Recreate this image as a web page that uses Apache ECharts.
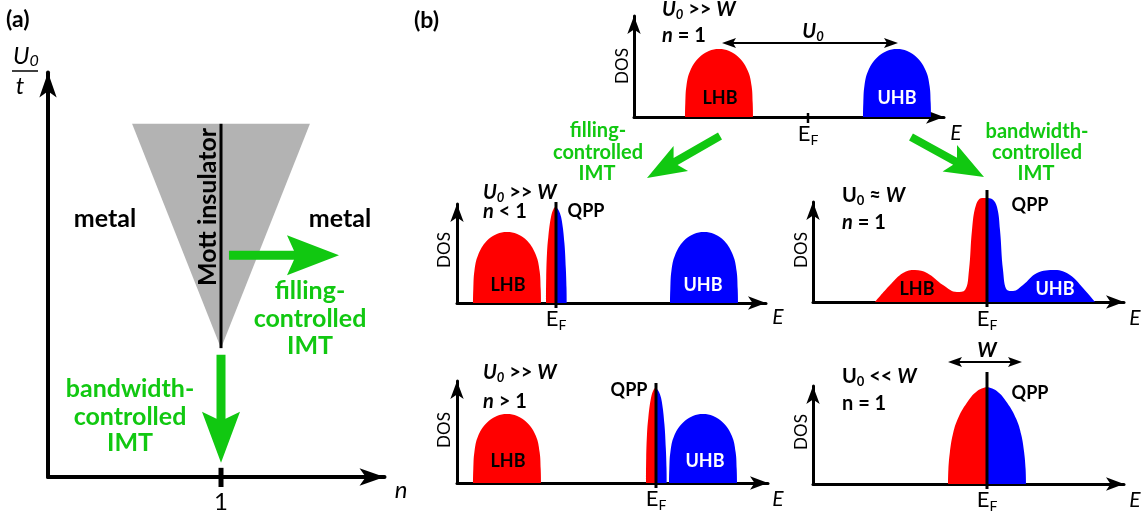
<!DOCTYPE html>
<html>
<head>
<meta charset="utf-8">
<script src="https://cdn.jsdelivr.net/npm/echarts@6/dist/echarts.min.js"></script>
<style>
  html, body { margin: 0; padding: 0; background: #fff; }
  #chart { width: 1143px; height: 516px; }
</style>
</head>
<body>
<div id="chart"></div>
<script>
// ---------- (a) phase diagram: filling n vs U0/t ----------
const mottWedge = [[0.486, 8.47], [1.514, 8.47], [1.0, 3.09]];     // insulating wedge
const mottLine = [[1.0, 8.47, 1.0, 3.09]];                          // n = 1 line
const fillingArrowA = [[1.046, 5.32, 1.682, 5.32]];                 // tail x, tail y, tip x, tip y
const bandwidthArrowA = [[1.0, 2.93, 1.0, 0.34]];
const nTickA = [[1.0, 0.22, 1.0, -0.24]];

// ---------- (b) densities of states, E measured from E_F ----------
// U0 >> W, n = 1
const dosTopLHB = [[-12.3,0],[-12.27,1.4],[-12.16,3.1],[-11.79,4.6],[-10.94,5.9],[-9.92,6.6],[-8.9,6.8],[-7.88,6.6],[-6.86,5.9],[-6.01,4.6],[-5.64,3.1],[-5.53,1.4],[-5.5,0]];
const dosTopUHB = [[5.5,0],[5.53,1.4],[5.64,3.1],[6.01,4.6],[6.86,5.9],[7.88,6.6],[8.9,6.8],[9.92,6.6],[10.94,5.9],[11.79,4.6],[12.16,3.1],[12.27,1.4],[12.3,0]];
const u0ArrowTop = [[-8.6, 7.4, 9.0, 7.4]];
const efTickTop = [[0, 0.4, 0, -0.6]];
const fillingArrowB = [[-8.8, -1.9, -16.1, -6.1]];
const bandwidthArrowB = [[10.3, -2.0, 17.6, -6.0]];

// U0 >> W, n < 1
const dosLtLHB = [[-8.3,0],[-8.27,1.4],[-8.16,3.2],[-7.79,4.8],[-6.94,6.2],[-5.92,6.9],[-4.9,7.1],[-3.88,6.9],[-2.86,6.2],[-2.01,4.8],[-1.64,3.2],[-1.53,1.4],[-1.5,0]];
const dosLtUHB = [[11.4,0],[11.43,1.4],[11.54,3.2],[11.91,4.8],[12.76,6.2],[13.78,6.9],[14.8,7.1],[15.82,6.9],[16.84,6.2],[17.69,4.8],[18.06,3.2],[18.17,1.4],[18.2,0]];
const dosLtQppOcc = [[-1.0,0],[-0.98,2.5],[-0.9,5.0],[-0.77,6.6],[-0.5,8.6],[-0.2,9.5],[0,9.6]];
const dosLtQppEmpty = [[0,9.6],[0.3,9.2],[0.57,8.3],[0.84,6.0],[0.98,3.5],[1.05,1.5],[1.07,0]];
const efLineLt = [[0, -0.5, 0, 10.1]];

// U0 ~ W, n = 1
const dosMidOcc = [[-11.2,0],[-9.7,1.7],[-8.4,2.9],[-7.2,3.2],[-6.0,2.9],[-4.4,1.7],[-3.0,1.0],[-2.2,1.2],[-1.8,3.2],[-1.5,7.2],[-1.1,9.7],[-0.5,10.4],[0,10.4]];
const dosMidEmpty = [[0,10.4],[0.5,10.3],[1.0,9.5],[1.3,7.2],[1.6,3.2],[2.0,1.2],[2.6,1.1],[3.6,1.7],[5.0,2.9],[6.8,3.2],[8.3,2.7],[9.6,1.4],[10.8,0]];
const efLineMid = [[0, -0.5, 0, 11.2]];

// U0 >> W, n > 1
const dosGtLHB = [[-18.3,0],[-18.27,1.4],[-18.16,3.1],[-17.79,4.7],[-16.94,6.0],[-15.92,6.7],[-14.9,6.9],[-13.88,6.7],[-12.86,6.0],[-12.01,4.7],[-11.64,3.1],[-11.53,1.4],[-11.5,0]];
const dosGtUHB = [[1.3,0],[1.33,1.4],[1.44,3.1],[1.81,4.7],[2.66,6.0],[3.68,6.7],[4.7,6.9],[5.72,6.7],[6.74,6.0],[7.59,4.7],[7.96,3.1],[8.07,1.4],[8.1,0]];
const dosGtQppOcc = [[-1.0,0],[-0.98,2.5],[-0.9,4.9],[-0.77,6.5],[-0.5,8.5],[-0.2,9.4],[0,9.5]];
const dosGtQppEmpty = [[0,9.5],[0.3,9.1],[0.57,8.2],[0.84,5.9],[0.98,3.5],[1.05,1.5],[1.07,0]];
const efLineGt = [[0, -0.5, 0, 10.0]];

// U0 << W, n = 1
const dosMetalOcc = [[-3.9,0],[-3.86,1.5],[-3.71,3.2],[-3.43,4.9],[-2.93,6.5],[-2.03,8.1],[-0.98,9.3],[0,9.7]];
const dosMetalEmpty = [[0,9.7],[0.98,9.3],[2.03,8.1],[2.93,6.5],[3.43,4.9],[3.71,3.2],[3.86,1.5],[3.9,0]];
const wArrow = [[-3.9, 12.2, 3.5, 12.2]];
const efLineMetal = [[0, -0.5, 0, 11.2]];

// ---------- styling ----------
const RED = '#ff0000', BLUE = '#0000ff', GREEN = '#11c811', GRAY = '#b3b3b3', BLACK = '#000';
const FAM = 'Lato, "Open Sans", sans-serif';
const font = (size, weight, style) => `${style || 'normal'} ${weight || 'normal'} ${size}px ${FAM}`;
const B20 = font(20, 'bold'), BI20 = font(20, 'bold', 'italic'), BI13 = font(13, 'bold', 'italic'), B13 = font(13, 'bold');

const measureCtx = document.createElement('canvas').getContext('2d');
function textRun(x, y, parts, align, fill) {
  const widths = parts.map(p => { measureCtx.font = p[1]; return measureCtx.measureText(p[0]).width; });
  const total = widths.reduce((a, b) => a + b, 0);
  let cx = align === 'center' ? x - total / 2 : align === 'right' ? x - total : x;
  return parts.map((p, i) => {
    const el = {
      type: 'text', x: cx, y: y + (p[2] || 0), silent: true,
      style: { text: p[0], font: p[1], fill: fill || BLACK, align: 'left', textAlign: 'left', verticalAlign: 'middle', textVerticalAlign: 'middle' }
    };
    cx += widths[i];
    return el;
  });
}
function label(x, y, text, f, fill, rotation) {
  return {
    type: 'text', x, y, rotation: rotation || 0, silent: true,
    style: { text, font: f, fill: fill || BLACK, align: 'center', textAlign: 'center', verticalAlign: 'middle', textVerticalAlign: 'middle' }
  };
}

// ---------- renderers for custom series ----------
function segmentRenderer(color, width) {
  return (params, api) => {
    const a = api.coord([api.value(0), api.value(1)]);
    const b = api.coord([api.value(2), api.value(3)]);
    return { type: 'line', silent: true, shape: { x1: a[0], y1: a[1], x2: b[0], y2: b[1] }, style: { stroke: color, lineWidth: width } };
  };
}
function arrowHead(tip, ux, uy, hl, hw, notch) {
  const nx = -uy, ny = ux;
  return [
    tip,
    [tip[0] - ux * hl + nx * hw, tip[1] - uy * hl + ny * hw],
    [tip[0] - ux * (hl - notch), tip[1] - uy * (hl - notch)],
    [tip[0] - ux * hl - nx * hw, tip[1] - uy * hl - ny * hw]
  ];
}
function fatArrowRenderer(o) {
  return (params, api) => {
    const p1 = api.coord([api.value(0), api.value(1)]);
    const p2 = api.coord([api.value(2), api.value(3)]);
    const dx = p2[0] - p1[0], dy = p2[1] - p1[1], L = Math.hypot(dx, dy);
    const ux = dx / L, uy = dy / L, nx = -uy, ny = ux;
    const at = (d, s) => [p2[0] - ux * d + nx * s, p2[1] - uy * d + ny * s];
    const h = o.sw / 2;
    const pts = [
      [p1[0] + nx * h, p1[1] + ny * h],
      at(o.hl - o.notch, h), at(o.hl, o.hw), p2, at(o.hl, -o.hw), at(o.hl - o.notch, -h),
      [p1[0] - nx * h, p1[1] - ny * h]
    ];
    return { type: 'polygon', silent: true, shape: { points: pts }, style: { fill: o.color } };
  };
}
function doubleArrowRenderer(o) {
  return (params, api) => {
    const p1 = api.coord([api.value(0), api.value(1)]);
    const p2 = api.coord([api.value(2), api.value(3)]);
    const dx = p2[0] - p1[0], dy = p2[1] - p1[1], L = Math.hypot(dx, dy);
    const ux = dx / L, uy = dy / L;
    const inset = o.hl - o.notch;
    return {
      type: 'group', silent: true, children: [
        { type: 'line', shape: { x1: p1[0] + ux * inset, y1: p1[1] + uy * inset, x2: p2[0] - ux * inset, y2: p2[1] - uy * inset }, style: { stroke: o.color, lineWidth: o.width } },
        { type: 'polygon', shape: { points: arrowHead(p2, ux, uy, o.hl, o.hw, o.notch) }, style: { fill: o.color } },
        { type: 'polygon', shape: { points: arrowHead(p1, -ux, -uy, o.hl, o.hw, o.notch) }, style: { fill: o.color } }
      ]
    };
  };
}
function polygonRenderer(vertices, color) {
  return (params, api) => {
    if (params.dataIndex !== 0) return;
    return { type: 'polygon', silent: true, shape: { points: vertices.map(v => api.coord(v)) }, style: { fill: color } };
  };
}

// ---------- axes ----------
function valueAxis(gridIndex, min, max, width, arrow) {
  return {
    type: 'value', gridIndex, min, max,
    axisLine: { show: true, onZero: false, symbol: ['none', 'arrow'], symbolSize: arrow, lineStyle: { color: BLACK, width } },
    axisTick: { show: false }, axisLabel: { show: false }, splitLine: { show: false }
  };
}
const grids = [
  { left: 48,  top: 72.5, width: 336.5, height: 404.5 },   // (a)
  { left: 634, top: 16,  width: 310, height: 101 },        // U0 >> W, n = 1
  { left: 457, top: 204, width: 309, height: 99 },         // n < 1
  { left: 813, top: 202, width: 311, height: 100 },        // U0 ~ W
  { left: 457, top: 381, width: 311, height: 102 },        // n > 1
  { left: 813, top: 386, width: 311, height: 98 }          // U0 << W
].map(g => Object.assign({ containLabel: false, outerBoundsMode: 'none' }, g));
const xRanges = [[0, 1.945], [-17.4, 13.6], [-9.9, 21.0], [-17.4, 13.7], [-19.9, 11.2], [-17.4, 13.7]];
const yRanges = [[0, 9.70], [0, 10.1], [0, 9.9], [0, 10.0], [0, 10.2], [0, 9.8]];
const xAxes = xRanges.map((r, i) => valueAxis(i, r[0], r[1], i === 0 ? 4 : 3, i === 0 ? [13, 25] : [10, 18]));
const yAxes = yRanges.map((r, i) => valueAxis(i, r[0], r[1], i === 0 ? 4 : 3, i === 0 ? [13, 25] : [10, 18]));

// ---------- series ----------
const series = [];
function band(gi, data, color) {
  series.push({
    type: 'line', xAxisIndex: gi, yAxisIndex: gi, data, smooth: 0.4,
    showSymbol: false, symbol: 'none', clip: false, silent: true,
    lineStyle: { width: 0, color }, areaStyle: { color, opacity: 1 }, z: 2
  });
}
function custom(gi, data, renderItem, z) {
  series.push({ type: 'custom', xAxisIndex: gi, yAxisIndex: gi, data, renderItem, clip: false, silent: true, z: z || 3 });
}

// (a)
custom(0, mottWedge, polygonRenderer(mottWedge, GRAY), 1);
custom(0, mottLine, segmentRenderer(BLACK, 3));
custom(0, nTickA, segmentRenderer(BLACK, 5));
custom(0, fillingArrowA, fatArrowRenderer({ sw: 9, hl: 52, hw: 20, notch: 7, color: GREEN }));
custom(0, bandwidthArrowA, fatArrowRenderer({ sw: 9, hl: 51, hw: 19, notch: 7, color: GREEN }));

// (b) top
band(1, dosTopLHB, RED);
band(1, dosTopUHB, BLUE);
custom(1, efTickTop, segmentRenderer(BLACK, 2.5));
custom(1, u0ArrowTop, doubleArrowRenderer({ width: 2, hl: 14, hw: 5, notch: 3, color: BLACK }));
custom(1, fillingArrowB, fatArrowRenderer({ sw: 8, hl: 39, hw: 14.5, notch: 6, color: GREEN }));
custom(1, bandwidthArrowB, fatArrowRenderer({ sw: 8, hl: 39, hw: 15, notch: 6, color: GREEN }));

// n < 1
band(2, dosLtLHB, RED);
band(2, dosLtUHB, BLUE);
band(2, dosLtQppOcc, RED);
band(2, dosLtQppEmpty, BLUE);
custom(2, efLineLt, segmentRenderer(BLACK, 3));

// U0 ~ W
band(3, dosMidOcc, RED);
band(3, dosMidEmpty, BLUE);
custom(3, efLineMid, segmentRenderer(BLACK, 3));

// n > 1
band(4, dosGtLHB, RED);
band(4, dosGtUHB, BLUE);
band(4, dosGtQppOcc, RED);
band(4, dosGtQppEmpty, BLUE);
custom(4, efLineGt, segmentRenderer(BLACK, 3));

// U0 << W
band(5, dosMetalOcc, RED);
band(5, dosMetalEmpty, BLUE);
custom(5, efLineMetal, segmentRenderer(BLACK, 3));
custom(5, wArrow, doubleArrowRenderer({ width: 2, hl: 14, hw: 5, notch: 3, color: BLACK }));

// ---------- text ----------
const ROT = Math.PI / 2;
const EF = (x, y) => textRun(x, y, [['E', font(22)], ['F', font(14), 6]], 'center');
const GA = font(25, 'bold');
const texts = [].concat(
  // (a)
  textRun(6, 20, [['(a)', font(23, 'bold')]], 'left'),
  textRun(13, 56, [['U', font(24, 'normal', 'italic')], ['0', font(16, 'normal', 'italic'), 5]], 'left'),
  [{ type: 'line', silent: true, shape: { x1: 12, y1: 71, x2: 38, y2: 71 }, style: { stroke: BLACK, lineWidth: 1.5 } }],
  [label(20, 86, 't', font(24, 'normal', 'italic'))],
  [label(105, 219, 'metal', font(25, 'bold')), label(340, 219, 'metal', font(25, 'bold'))],
  [label(208, 207, 'Mott insulator', font(25, 'bold'), BLACK, ROT)],
  [label(310, 291, 'filling-', GA, GREEN), label(310, 319, 'controlled', GA, GREEN), label(310, 346, 'IMT', GA, GREEN)],
  [label(130, 389, 'bandwidth-', GA, GREEN), label(130, 417, 'controlled', GA, GREEN), label(130, 443, 'IMT', GA, GREEN)],
  [label(221, 502, '1', font(24))],
  [label(401, 490, 'n', font(24, 'normal', 'italic'))],

  // (b)
  textRun(414, 21, [['(b)', font(23, 'bold')]], 'left'),
  [label(598, 131, 'filling-', font(20, 'bold'), GREEN), label(598, 153, 'controlled', font(20, 'bold'), GREEN), label(597, 174, 'IMT', font(20, 'bold'), GREEN)],
  [label(1037, 132, 'bandwidth-', font(20, 'bold'), GREEN), label(1037, 153, 'controlled', font(20, 'bold'), GREEN), label(1036, 174, 'IMT', font(20, 'bold'), GREEN)],

  // top panel
  textRun(662, 10, [['U', BI20], ['0', BI13, 5], [' >> ', B20], ['W', BI20]], 'left'),
  textRun(662, 36, [['n', BI20], [' = 1', B20]], 'left'),
  [label(623, 66, 'DOS', font(17), BLACK, ROT)],
  textRun(813, 32, [['U', BI20], ['0', BI13, 5]], 'center'),
  [label(720, 98, 'LHB', font(18, 'bold')), label(897, 98, 'UHB', font(18, 'bold'), '#fff')],
  EF(808, 134),
  [label(956, 133, 'E', font(21, 'normal', 'italic'))],

  // n < 1
  textRun(483, 193, [['U', BI20], ['0', BI13, 5], [' >> ', B20], ['W', BI20]], 'left'),
  textRun(483, 212, [['n', BI20], [' < 1', B20]], 'left'),
  [label(586, 211, 'QPP', font(18, 'bold'))],
  [label(445, 250, 'DOS', font(17), BLACK, ROT)],
  [label(508, 285, 'LHB', font(18, 'bold')), label(703, 285, 'UHB', font(18, 'bold'), '#fff')],
  EF(556, 319),
  [label(778, 317, 'E', font(21, 'normal', 'italic'))],

  // U0 ~ W
  textRun(842, 196, [['U', B20], ['0', B13, 5], [' \u2248 ', B20], ['W', BI20]], 'left'),
  textRun(842, 223, [['n', BI20], [' = 1', B20]], 'left'),
  [label(1030, 205, 'QPP', font(18, 'bold'))],
  [label(802, 250, 'DOS', font(17), BLACK, ROT)],
  [label(917, 289, 'LHB', font(18, 'bold')), label(1055, 289, 'UHB', font(18, 'bold'), '#fff')],
  EF(987, 319),
  [label(1135, 318, 'E', font(21, 'normal', 'italic'))],

  // n > 1
  textRun(483, 373, [['U', BI20], ['0', BI13, 5], [' >> ', B20], ['W', BI20]], 'left'),
  textRun(483, 402, [['n', BI20], [' > 1', B20]], 'left'),
  [label(629, 390, 'QPP', font(18, 'bold'))],
  [label(445, 430, 'DOS', font(17), BLACK, ROT)],
  [label(508, 461, 'LHB', font(18, 'bold')), label(705, 461, 'UHB', font(18, 'bold'), '#fff')],
  EF(656, 499),
  [label(778, 499, 'E', font(21, 'normal', 'italic'))],

  // U0 << W
  textRun(842, 377, [['U', B20], ['0', B13, 5], [' << ', B20], ['W', BI20]], 'left'),
  textRun(842, 404, [['n = 1', B20]], 'left'),
  [label(987, 351, 'W', BI20)],
  [label(1030, 393, 'QPP', font(18, 'bold'))],
  [label(802, 432, 'DOS', font(17), BLACK, ROT)],
  EF(987, 500),
  [label(1135, 500, 'E', font(21, 'normal', 'italic'))]
);

const chart = echarts.init(document.getElementById('chart'), null, { renderer: 'canvas' });
chart.setOption({
  animation: false,
  backgroundColor: '#fff',
  grid: grids,
  xAxis: xAxes,
  yAxis: yAxes,
  series,
  graphic: { elements: texts.map(t => Object.assign({ z: 100 }, t)) }
});
</script>
</body>
</html>
